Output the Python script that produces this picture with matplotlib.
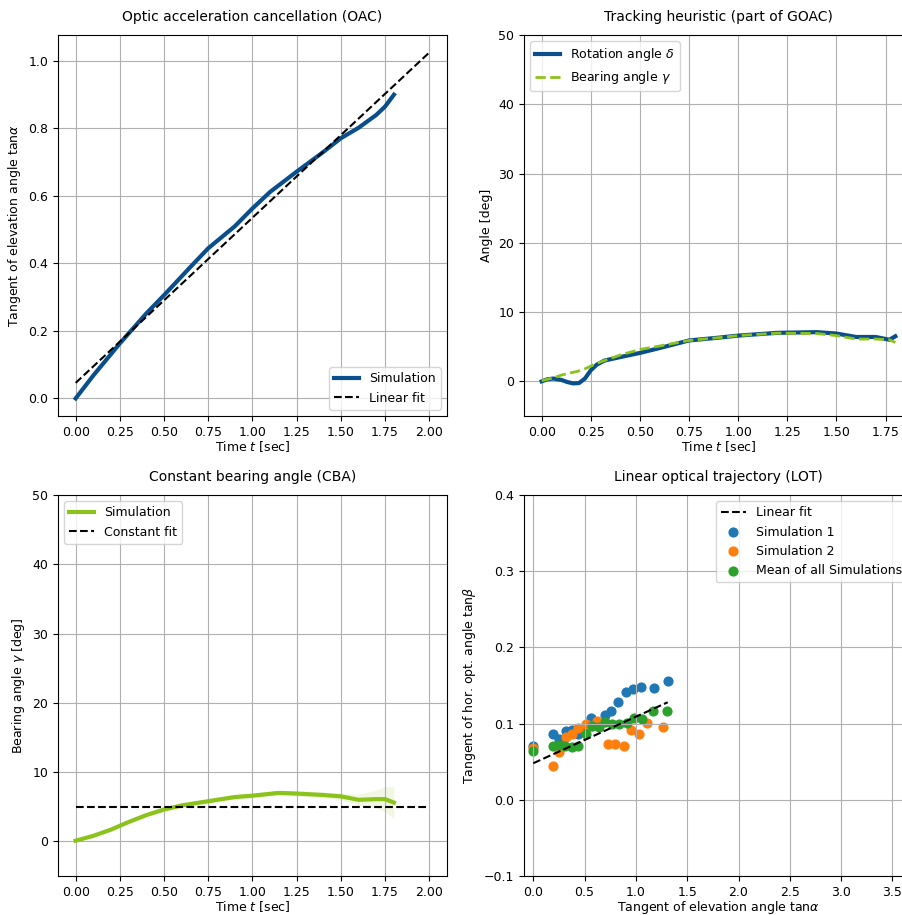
import matplotlib
matplotlib.use("Agg")
import matplotlib.pyplot as plt
import numpy as np

# --- OAC: tangent of elevation angle over time
t_oac = [0.0, 0.1, 0.25, 0.4, 0.5, 0.65, 0.75, 0.9, 1.0, 1.1, 1.25, 1.4, 1.5, 1.6, 1.7, 1.75, 1.8]
tan_alpha = [0.0, 0.068, 0.163, 0.252, 0.306, 0.39, 0.445, 0.51, 0.563, 0.612, 0.672, 0.73, 0.771, 0.802, 0.84, 0.865, 0.90]
oac_fit_t = [0.0, 2.0]
oac_fit_y = [0.046, 1.025]

# --- Tracking heuristic: rotation angle delta and bearing angle gamma
t_track = [0.0, 0.03, 0.06, 0.1, 0.13, 0.16, 0.19, 0.22, 0.25, 0.28, 0.32, 0.4, 0.5, 0.6, 0.75, 0.9, 1.0, 1.2, 1.4, 1.5, 1.6, 1.7, 1.77, 1.8]
delta = [0.0, 0.3, 0.4, 0.2, -0.1, -0.3, -0.25, 0.4, 1.6, 2.4, 3.0, 3.5, 4.1, 4.8, 5.9, 6.3, 6.6, 7.0, 7.1, 6.9, 6.4, 6.4, 6.0, 6.5]
gamma = [0.1, 0.3, 0.5, 0.9, 1.1, 1.3, 1.5, 1.8, 2.2, 2.6, 3.0, 3.8, 4.6, 5.1, 5.9, 6.3, 6.6, 6.95, 6.9, 6.6, 6.1, 6.1, 6.0, 5.6]

# --- CBA: bearing angle with spread
t_cba = [0.0, 0.1, 0.2, 0.3, 0.4, 0.5, 0.6, 0.75, 0.9, 1.0, 1.15, 1.25, 1.4, 1.5, 1.6, 1.7, 1.75, 1.8]
cba_mean = [0.1, 0.8, 1.7, 2.8, 3.8, 4.6, 5.2, 5.8, 6.4, 6.6, 7.0, 6.9, 6.7, 6.5, 6.0, 6.1, 6.1, 5.6]
cba_spread = [0.05, 0.1, 0.15, 0.2, 0.25, 0.3, 0.35, 0.35, 0.35, 0.35, 0.35, 0.4, 0.4, 0.5, 0.8, 1.3, 1.8, 2.3]
cba_const = 5.0

# --- LOT: tan(beta) vs tan(alpha)
sim1_x = [0.0, 0.19, 0.25, 0.32, 0.38, 0.44, 0.51, 0.565, 0.63, 0.70, 0.76, 0.83, 0.90, 0.97, 1.05, 1.18, 1.31]
sim1_y = [0.071, 0.087, 0.080, 0.090, 0.091, 0.086, 0.097, 0.107, 0.101, 0.111, 0.116, 0.129, 0.141, 0.145, 0.148, 0.147, 0.156]
sim2_x = [0.0, 0.19, 0.25, 0.32, 0.38, 0.44, 0.51, 0.56, 0.62, 0.73, 0.80, 0.88, 0.95, 1.03, 1.11, 1.26]
sim2_y = [0.068, 0.045, 0.063, 0.082, 0.087, 0.094, 0.0996, 0.097, 0.104, 0.073, 0.073, 0.071, 0.092, 0.086, 0.101, 0.096]
mean_x = [0.0, 0.19, 0.25, 0.31, 0.38, 0.44, 0.51, 0.57, 0.64, 0.70, 0.77, 0.84, 0.91, 0.98, 1.06, 1.17, 1.30]
mean_y = [0.064, 0.071, 0.072, 0.071, 0.069, 0.071, 0.087, 0.097, 0.095, 0.102, 0.100, 0.100, 0.101, 0.107, 0.106, 0.116, 0.116]
lot_fit_x = [0.0, 1.31]
lot_fit_y = [0.048, 0.128]

blue = "#0a4f8c"
green = "#8cc21c"

plt.rcParams["font.size"] = 9
plt.rcParams["axes.titlesize"] = 10

fig = plt.figure(figsize=(9.03, 9.15), dpi=100)
w, h = 0.4308, 0.4164
ax1 = fig.add_axes([0.0642, 0.5454, w, h])
ax2 = fig.add_axes([0.5803, 0.5454, w, h])
ax3 = fig.add_axes([0.0642, 0.0426, w, h])
ax4 = fig.add_axes([0.5803, 0.0426, w, h])

# OAC
ax1.plot(t_oac, tan_alpha, color=blue, lw=3, label="Simulation")
ax1.plot(oac_fit_t, oac_fit_y, "k--", lw=1.5, label="Linear fit")
ax1.set_xlim(-0.1, 2.1)
ax1.set_ylim(-0.052, 1.077)
ax1.set_xticks(np.arange(0, 2.01, 0.25))
ax1.set_xlabel("Time $t$ [sec]", labelpad=0)
ax1.set_ylabel(r"Tangent of elevation angle tan$\alpha$")
ax1.set_title("Optic acceleration cancellation (OAC)", pad=10)
ax1.legend(loc="lower right")

# Tracking heuristic
ax2.plot(t_track, delta, color=blue, lw=3, label=r"Rotation angle $\delta$")
ax2.plot(t_track, gamma, color=green, lw=2, ls="--", label=r"Bearing angle $\gamma$")
ax2.set_xlim(-0.09, 1.89)
ax2.set_ylim(-5, 50)
ax2.set_xticks(np.arange(0, 1.76, 0.25))
ax2.set_xlabel("Time $t$ [sec]", labelpad=0)
ax2.set_ylabel("Angle [deg]")
ax2.set_title("Tracking heuristic (part of GOAC)", pad=10)
ax2.legend(loc="upper left")

# CBA
lo = np.array(cba_mean) - np.array(cba_spread)
hi = np.array(cba_mean) + np.array(cba_spread)
ax3.fill_between(t_cba, lo, hi, color=green, alpha=0.12, lw=0)
ax3.plot(t_cba, cba_mean, color=green, lw=3, label="Simulation")
ax3.plot([0, 2.0], [cba_const, cba_const], "k--", lw=1.5, label="Constant fit")
ax3.set_xlim(-0.1, 2.1)
ax3.set_ylim(-5, 50)
ax3.set_xticks(np.arange(0, 2.01, 0.25))
ax3.set_xlabel("Time $t$ [sec]", labelpad=0)
ax3.set_ylabel(r"Bearing angle $\gamma$ [deg]")
ax3.set_title("Constant bearing angle (CBA)", pad=10)
ax3.legend(loc="upper left")

# LOT
ax4.plot(lot_fit_x, lot_fit_y, "k--", lw=1.5, label="Linear fit")
ax4.scatter(sim1_x, sim1_y, color="tab:blue", s=40, label="Simulation 1")
ax4.scatter(sim2_x, sim2_y, color="tab:orange", s=40, label="Simulation 2")
ax4.scatter(mean_x, mean_y, color="tab:green", s=40, label="Mean of all Simulations")
ax4.set_xlim(-0.09, 3.7)
ax4.set_ylim(-0.1, 0.4)
ax4.set_xticks(np.arange(0, 3.51, 0.5))
ax4.set_yticks(np.arange(-0.1, 0.41, 0.1))
ax4.set_xlabel(r"Tangent of elevation angle tan$\alpha$", labelpad=0)
ax4.set_ylabel(r"Tangent of hor. opt. angle tan$\beta$")
ax4.set_title("Linear optical trajectory (LOT)", pad=10)
ax4.legend(loc="upper right")

for ax in (ax1, ax2, ax3, ax4):
    ax.grid(True)

fig.savefig("out.png", dpi=100)
